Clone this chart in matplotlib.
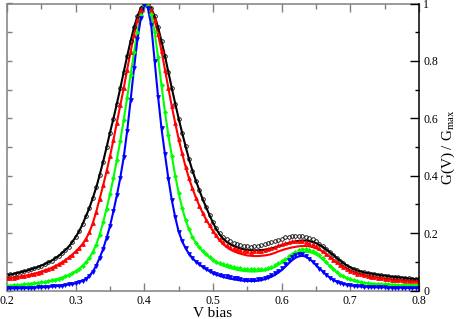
#!/usr/bin/env python3
"""Normalised conductance G(V)/Gmax vs bias: four traces (points = data,
solid = fit), resonant peak at 0.4 V and a weaker side band near 0.63 V."""
import numpy as np
import matplotlib
matplotlib.use("Agg")
import matplotlib.pyplot as plt
import matplotlib.ticker as mt

plt.rcParams["font.family"] = ["Liberation Serif", "DejaVu Serif"]
plt.rcParams["mathtext.fontset"] = "custom"
plt.rcParams["mathtext.rm"] = "Liberation Serif"

# bias sweep, 0.2 .. 0.8 V in 5 mV steps (121 samples)
V = np.linspace(0.2, 0.8, 121)

black_pts = [
    0.053, 0.056, 0.058, 0.061, 0.064, 0.067, 0.070, 0.074, 0.078, 0.082,
    0.087, 0.092, 0.098, 0.104, 0.112, 0.120, 0.130, 0.141, 0.153, 0.169,
    0.187, 0.206, 0.231, 0.259, 0.288, 0.323, 0.359, 0.403, 0.449, 0.499,
    0.550, 0.599, 0.651, 0.705, 0.761, 0.817, 0.869, 0.917, 0.956, 0.984,
    0.998, 0.998, 0.984, 0.956, 0.917, 0.869, 0.817, 0.761, 0.705, 0.651,
    0.599, 0.550, 0.503, 0.458, 0.418, 0.383, 0.350, 0.318, 0.290, 0.262,
    0.238, 0.217, 0.199, 0.187, 0.178, 0.171, 0.165, 0.161, 0.158, 0.155,
    0.154, 0.153, 0.154, 0.156, 0.158, 0.161, 0.164, 0.168, 0.172, 0.177,
    0.181, 0.185, 0.187, 0.189, 0.190, 0.190, 0.189, 0.187, 0.183, 0.178,
    0.171, 0.163, 0.154, 0.144, 0.134, 0.124, 0.114, 0.104, 0.095, 0.087,
    0.080, 0.075, 0.070, 0.066, 0.063, 0.061, 0.059, 0.057, 0.055, 0.053,
    0.052, 0.050, 0.048, 0.047, 0.046, 0.045, 0.043, 0.042, 0.041, 0.040,
    0.039]
red_pts = [
    0.042, 0.044, 0.045, 0.047, 0.049, 0.051, 0.053, 0.056, 0.059, 0.062,
    0.066, 0.070, 0.074, 0.079, 0.085, 0.091, 0.098, 0.106, 0.115, 0.125,
    0.136, 0.148, 0.162, 0.180, 0.203, 0.235, 0.275, 0.320, 0.366, 0.415,
    0.468, 0.525, 0.585, 0.645, 0.705, 0.770, 0.832, 0.891, 0.941, 0.978,
    0.997, 0.997, 0.978, 0.942, 0.893, 0.834, 0.770, 0.705, 0.642, 0.583,
    0.528, 0.478, 0.432, 0.391, 0.356, 0.324, 0.296, 0.270, 0.247, 0.227,
    0.209, 0.193, 0.179, 0.168, 0.159, 0.152, 0.147, 0.143, 0.140, 0.138,
    0.136, 0.135, 0.136, 0.137, 0.139, 0.141, 0.144, 0.148, 0.152, 0.157,
    0.162, 0.166, 0.169, 0.171, 0.172, 0.173, 0.172, 0.170, 0.167, 0.162,
    0.155, 0.147, 0.138, 0.128, 0.118, 0.108, 0.098, 0.090, 0.082, 0.075,
    0.069, 0.064, 0.059, 0.056, 0.053, 0.050, 0.048, 0.046, 0.044, 0.042,
    0.041, 0.039, 0.038, 0.037, 0.036, 0.035, 0.034, 0.033, 0.032, 0.032,
    0.031]
green_pts = [
    0.016, 0.017, 0.018, 0.019, 0.020, 0.021, 0.022, 0.024, 0.025, 0.027,
    0.028, 0.030, 0.032, 0.035, 0.038, 0.041, 0.045, 0.049, 0.054, 0.060,
    0.067, 0.075, 0.086, 0.098, 0.114, 0.134, 0.160, 0.195, 0.238, 0.285,
    0.336, 0.392, 0.456, 0.522, 0.595, 0.672, 0.752, 0.830, 0.902, 0.960,
    0.995, 0.993, 0.962, 0.900, 0.812, 0.715, 0.623, 0.541, 0.469, 0.400,
    0.340, 0.288, 0.246, 0.213, 0.187, 0.166, 0.150, 0.137, 0.126, 0.116,
    0.108, 0.101, 0.096, 0.092, 0.088, 0.085, 0.083, 0.080, 0.078, 0.076,
    0.075, 0.074, 0.074, 0.074, 0.075, 0.076, 0.078, 0.082, 0.088, 0.095,
    0.103, 0.111, 0.120, 0.128, 0.135, 0.140, 0.143, 0.144, 0.142, 0.138,
    0.132, 0.123, 0.112, 0.100, 0.087, 0.075, 0.064, 0.055, 0.049, 0.043,
    0.039, 0.035, 0.032, 0.029, 0.027, 0.025, 0.024, 0.023, 0.023, 0.022,
    0.021, 0.021, 0.020, 0.020, 0.019, 0.019, 0.019, 0.018, 0.018, 0.018,
    0.018]
blue_pts = [
    0.007, 0.007, 0.008, 0.008, 0.008, 0.009, 0.009, 0.010, 0.010, 0.011,
    0.011, 0.012, 0.013, 0.014, 0.015, 0.016, 0.017, 0.019, 0.021, 0.023,
    0.025, 0.029, 0.034, 0.041, 0.051, 0.066, 0.087, 0.114, 0.145, 0.183,
    0.225, 0.276, 0.332, 0.393, 0.465, 0.556, 0.663, 0.775, 0.875, 0.950,
    0.995, 0.985, 0.925, 0.800, 0.675, 0.565, 0.475, 0.390, 0.315, 0.255,
    0.205, 0.172, 0.147, 0.128, 0.113, 0.101, 0.091, 0.082, 0.074, 0.067,
    0.062, 0.058, 0.055, 0.052, 0.049, 0.046, 0.044, 0.042, 0.040, 0.038,
    0.037, 0.037, 0.038, 0.039, 0.041, 0.044, 0.048, 0.054, 0.061, 0.069,
    0.079, 0.093, 0.107, 0.117, 0.123, 0.127, 0.126, 0.121, 0.111, 0.100,
    0.088, 0.076, 0.065, 0.054, 0.045, 0.037, 0.031, 0.026, 0.023, 0.020,
    0.018, 0.016, 0.015, 0.014, 0.013, 0.013, 0.012, 0.012, 0.011, 0.011,
    0.011, 0.010, 0.010, 0.010, 0.010, 0.010, 0.009, 0.009, 0.009, 0.009,
    0.009]

# fits sit on the points except over 0.50 .. 0.67 V (side band), where they run lower
black_fit_mid = [
    0.236, 0.213, 0.194, 0.180, 0.169, 0.161, 0.155, 0.150, 0.146, 0.143,
    0.141, 0.140, 0.140, 0.140, 0.141, 0.142, 0.144, 0.147, 0.150, 0.154,
    0.158, 0.162, 0.165, 0.168, 0.171, 0.173, 0.174, 0.174, 0.172, 0.169,
    0.165, 0.159, 0.152, 0.143, 0.134]
red_fit_mid = [
    0.207, 0.189, 0.174, 0.161, 0.151, 0.143, 0.137, 0.132, 0.128, 0.125,
    0.122, 0.121, 0.120, 0.120, 0.121, 0.122, 0.124, 0.127, 0.131, 0.136,
    0.140, 0.144, 0.147, 0.150, 0.152, 0.154, 0.155, 0.155, 0.154, 0.151,
    0.147, 0.142, 0.135, 0.127, 0.118]
green_fit_mid = [
    0.107, 0.099, 0.092, 0.087, 0.082, 0.078, 0.075, 0.072, 0.070, 0.068,
    0.067, 0.066, 0.066, 0.067, 0.068, 0.070, 0.073, 0.077, 0.082, 0.089,
    0.097, 0.105, 0.113, 0.120, 0.126, 0.131, 0.134, 0.135, 0.134, 0.131,
    0.126, 0.118, 0.108, 0.097, 0.086]
blue_fit_mid = [
    0.060, 0.055, 0.051, 0.047, 0.044, 0.041, 0.039, 0.037, 0.035, 0.034,
    0.033, 0.033, 0.033, 0.034, 0.036, 0.039, 0.043, 0.048, 0.054, 0.062,
    0.071, 0.082, 0.094, 0.105, 0.114, 0.119, 0.121, 0.118, 0.111, 0.101,
    0.089, 0.077, 0.066, 0.055, 0.045]

SERIES = [  # points, fit segment, colour, marker, size, filled?
    (black_pts, black_fit_mid, "#000000", "o", 2.6, False),
    (red_pts, red_fit_mid, "#ff0000", "^", 2.7, True),
    (green_pts, green_fit_mid, "#00ff00", "D", 2.0, True),
    (blue_pts, blue_fit_mid, "#0000ff", "v", 2.7, True),
]
GREY = "#808080"

fig = plt.figure(figsize=(4.57, 3.19), dpi=100)
ax = fig.add_axes([7 / 457, 1 - 290.5 / 319, 412 / 457, 287 / 319])

for pts, mid, c, mk, ms, filled in SERIES:
    fit = pts[:60] + mid + pts[95:]
    ax.plot(V, fit, color=c, lw=1.5, zorder=2)
    ax.plot(V, pts, ls="none", marker=mk, ms=ms,
            mfc=c if filled else "none", mec=c, mew=0.6, zorder=3)

ax.set_xlim(0.2, 0.8)
ax.set_ylim(0, 1)
for s in ax.spines.values():
    s.set_color(GREY)
    s.set_linewidth(1.1)
ax.spines["right"].set_visible(False)
ax.xaxis.set_major_locator(mt.MultipleLocator(0.1))
ax.xaxis.set_minor_locator(mt.MultipleLocator(0.05))
ax.xaxis.set_major_formatter(mt.FuncFormatter(lambda v, p: f"{v:g}"))
ax.yaxis.set_major_locator(mt.MultipleLocator(0.2))
ax.yaxis.set_minor_locator(mt.MultipleLocator(0.1))
ax.tick_params(axis="x", which="both", direction="in", top=True, bottom=True,
               color=GREY, labelcolor="black", labelsize=8.5, pad=3)
ax.tick_params(axis="x", which="major", length=6, width=1.0)
ax.tick_params(axis="x", which="minor", length=3.5, width=1.0)
ax.tick_params(axis="y", which="both", direction="in", left=True, right=False,
               labelleft=False, color=GREY, length=3.5, width=1.0)
ax.set_xlabel("V bias", fontsize=11, labelpad=0)

# right-hand axis carries the labelled y scale in black
ax2 = ax.twinx()
ax2.set_ylim(0, 1)
for k in ("left", "top", "bottom"):
    ax2.spines[k].set_visible(False)
ax2.spines["right"].set_color("black")
ax2.spines["right"].set_linewidth(1.1)
ax2.yaxis.set_major_locator(mt.MultipleLocator(0.2))
ax2.yaxis.set_minor_locator(mt.MultipleLocator(0.1))
ax2.yaxis.set_major_formatter(mt.FuncFormatter(lambda v, p: f"{v:g}"))
ax2.tick_params(axis="y", which="both", direction="in", labelsize=8.5, pad=3)
ax2.tick_params(axis="y", which="major", length=6.5, width=1.0)
ax2.tick_params(axis="y", which="minor", length=3, width=1.0)
ax2.set_ylabel(r"G(V) / G$_{\mathrm{max}}$", fontsize=11, labelpad=1)

fig.savefig("out.png", dpi=100)
print("saved out.png")
